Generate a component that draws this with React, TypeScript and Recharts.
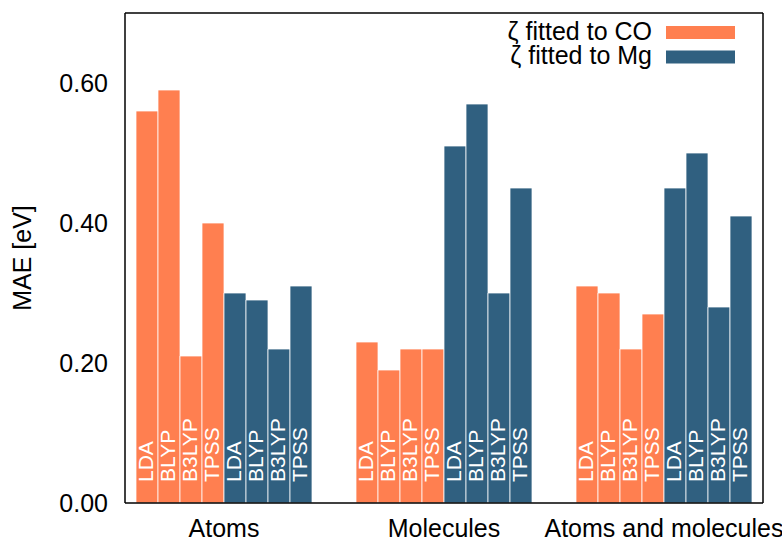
import React from "react";
import {
  BarChart,
  Bar,
  XAxis,
  YAxis,
  Cell,
  LabelList,
  Legend,
} from "recharts";

const groups = ["Atoms", "Molecules", "Atoms and molecules"];
const functionals = ["LDA", "BLYP", "B3LYP", "TPSS"];
const seriesNames = ["ζ fitted to CO", "ζ fitted to Mg"];
const seriesColors = ["#ff7f50", "#306080"];

const coAtoms = [0.56, 0.59, 0.21, 0.4];
const coMolecules = [0.23, 0.19, 0.22, 0.22];
const coBoth = [0.31, 0.3, 0.22, 0.27];
const mgAtoms = [0.3, 0.29, 0.22, 0.31];
const mgMolecules = [0.51, 0.57, 0.3, 0.45];
const mgBoth = [0.45, 0.5, 0.28, 0.41];

const yTicks = [0, 0.2, 0.4, 0.6];

const coValues = [coAtoms, coMolecules, coBoth];
const mgValues = [mgAtoms, mgMolecules, mgBoth];

type Row = { pos: number; value: number | null; label: string; series: number };
const rows: Row[] = [];
groups.forEach((_, g) => {
  [coValues[g], mgValues[g]].forEach((vals, s) => {
    vals.forEach((v, i) => {
      rows.push({ pos: rows.length, value: v, label: functionals[i], series: s });
    });
  });
  if (g < groups.length - 1) {
    rows.push({ pos: rows.length, value: null, label: "", series: 0 });
    rows.push({ pos: rows.length, value: null, label: "", series: 0 });
  }
});
const groupCenters = groups.map((_, g) => g * 10 + 3.5);
const numDomain = [-1, rows.length];

const FONT = "'Liberation Sans', Arial, Helvetica, sans-serif";
const axisStroke = { stroke: "#000", strokeWidth: 1.5 };

const BarLabel = (props: any) => {
  const { x, y, width, height, value } = props;
  if (!value) return null;
  const cx = Number(x) + Number(width) / 2 + 5.5;
  const by = Number(y) + Number(height) - 21;
  return (
    <text
      x={cx}
      y={by}
      transform={`rotate(-90 ${cx} ${by})`}
      fill="#fff"
      fontSize={21}
      fontFamily={FONT}
    >
      {value}
    </text>
  );
};

const LegendContent = () => (
  <svg width={782} height={80} style={{ display: "block" }}>
    {seriesNames.map((name, i) => (
      <g key={name}>
        <text
          x={652}
          y={40 + i * 23.5}
          textAnchor="end"
          fontSize={25}
          fontFamily={FONT}
          fill="#000"
        >
          {name}
        </text>
        <rect x={666} y={26 + i * 24.5} width={69} height={13} fill={seriesColors[i]} />
      </g>
    ))}
  </svg>
);

export default function App() {
  return (
    <div style={{ position: "absolute", left: 0, top: 0, fontFamily: FONT }}>
      <BarChart
        width={782}
        height={540}
        data={rows}
        margin={{ top: 13, right: 19, bottom: 0, left: 0 }}
        barCategoryGap={0}
        barGap={0}
      >
        <XAxis
          xAxisId="cat"
          dataKey="pos"
          type="category"
          hide
          padding={{ left: 11, right: 11 }}
        />
        <XAxis
          xAxisId="bottomTicks"
          dataKey="pos"
          type="number"
          orientation="bottom"
          mirror
          domain={numDomain}
          ticks={groupCenters}
          tick={false}
          tickSize={7}
          axisLine={false}
          tickLine={axisStroke}
          height={7}
        />
        <XAxis
          xAxisId="bottom"
          dataKey="pos"
          type="number"
          orientation="bottom"
          domain={numDomain}
          ticks={groupCenters}
          interval={0}
          height={37}
          tickLine={false}
          tickSize={0}
          tickMargin={16}
          axisLine={axisStroke}
          tickFormatter={(_v: any, i: number) => groups[i]}
          tick={{ fontSize: 25, fill: "#000", fontFamily: FONT }}
        />
        <XAxis
          xAxisId="top"
          dataKey="pos"
          type="number"
          orientation="top"
          mirror
          domain={numDomain}
          ticks={groupCenters}
          tick={false}
          tickSize={7}
          axisLine={axisStroke}
          tickLine={axisStroke}
          height={7}
        />
        <YAxis
          yAxisId="main"
          domain={[0, 0.7]}
          ticks={yTicks}
          width={125}
          tickLine={false}
          tickSize={0}
          tickMargin={17}
          axisLine={axisStroke}
          tickFormatter={(v: number) => v.toFixed(2)}
          tick={{ fontSize: 25, fill: "#000", fontFamily: FONT }}
          label={{
            value: "MAE [eV]",
            angle: -90,
            position: "insideLeft",
            offset: 22,
            style: { textAnchor: "middle", fontSize: 25, fill: "#000", fontFamily: FONT },
          }}
        />
        <YAxis
          yAxisId="leftTicks"
          domain={[0, 0.7]}
          ticks={yTicks}
          mirror
          tick={false}
          tickSize={7}
          axisLine={false}
          tickLine={axisStroke}
          width={7}
        />
        <YAxis
          yAxisId="right"
          orientation="right"
          domain={[0, 0.7]}
          ticks={yTicks}
          mirror
          tick={false}
          tickSize={7}
          axisLine={axisStroke}
          tickLine={axisStroke}
          width={7}
        />
        <Legend
          layout="vertical"
          verticalAlign="middle"
          align="center"
          content={<LegendContent />}
          wrapperStyle={{ position: "absolute", left: 0, top: 0, width: 782, height: 80 }}
        />
        <Bar
          dataKey="value"
          xAxisId="cat"
          yAxisId="main"
          isAnimationActive={false}
          stroke="#ffffff"
          strokeOpacity={0.75}
          strokeWidth={1}
        >
          {rows.map((r) => (
            <Cell key={r.pos} fill={seriesColors[r.series]} />
          ))}
          <LabelList dataKey="label" content={<BarLabel />} />
        </Bar>
      </BarChart>
    </div>
  );
}
